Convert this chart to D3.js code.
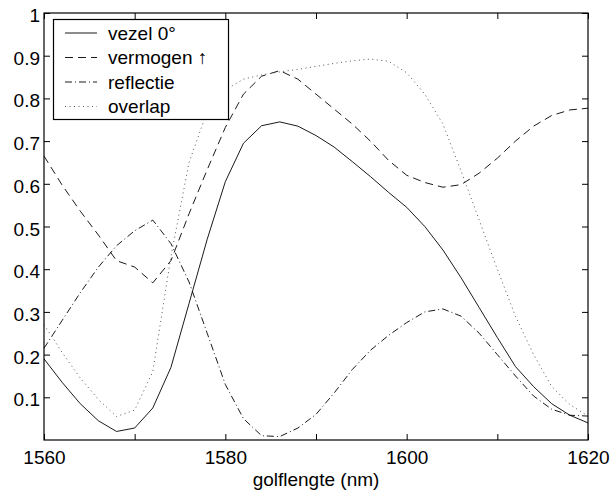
<!DOCTYPE html>
<html><head><meta charset="utf-8">
<script src="https://cdn.jsdelivr.net/npm/d3@7"></script>
<style>
body{margin:0;background:#fff}
svg{display:block}
text{font-family:"Liberation Sans",Arial,Helvetica,sans-serif;fill:#000}
</style>
</head><body>
<svg id="chart" width="611" height="492"></svg>
<script>
// ---- data ----
const wavelength = [1560,1562,1564,1566,1568,1570,1572,1574,1576,1578,1580,1582,1584,1586,1588,1590,
                    1592,1594,1596,1598,1600,1602,1604,1606,1608,1610,1612,1614,1616,1618,1620];
const vezel     = [0.19,0.135,0.085,0.045,0.02,0.028,0.075,0.17,0.32,0.47,0.605,0.695,0.736,0.745,0.735,0.713,
                   0.686,0.652,0.617,0.58,0.545,0.50,0.445,0.38,0.31,0.24,0.172,0.125,0.085,0.058,0.04];
const vermogen  = [0.665,0.597,0.536,0.48,0.42,0.405,0.368,0.42,0.53,0.633,0.732,0.81,0.852,0.865,0.845,0.81,
                   0.775,0.74,0.70,0.655,0.62,0.603,0.592,0.598,0.625,0.66,0.70,0.735,0.76,0.773,0.777];
const reflectie = [0.215,0.28,0.345,0.405,0.455,0.49,0.515,0.46,0.37,0.25,0.13,0.05,0.01,0.008,0.028,0.06,
                   0.11,0.165,0.21,0.245,0.275,0.3,0.307,0.29,0.25,0.2,0.15,0.103,0.072,0.058,0.056];
const overlap   = [0.27,0.205,0.145,0.095,0.055,0.07,0.16,0.43,0.65,0.77,0.82,0.845,0.855,0.862,0.868,0.875,
                   0.882,0.888,0.892,0.887,0.86,0.81,0.74,0.63,0.515,0.40,0.29,0.20,0.125,0.083,0.056];
const seriesNames = ["vezel 0°","vermogen ↑","reflectie","overlap"];
const xTicks = [1560,1570,1580,1590,1600,1610,1620];
const xTickLabels = ["1560","","1580","","1600","","1620"];
const yTicks = [0.1,0.2,0.3,0.4,0.5,0.6,0.7,0.8,0.9,1];
const yTickLabels = ["0.1","0.2","0.3","0.4","0.5","0.6","0.7","0.8","0.9","1"];
const xLabel = "golflengte (nm)";

// ---- layout ----
const L = 44, R = 588, T = 13, B = 440;
const FS = 19;
const svg = d3.select("#chart");
const x = d3.scaleLinear().domain([1560,1620]).range([L,R]);
const y = d3.scaleLinear().domain([0,1]).range([B,T]);

const dashes = ["", "8,5", "7,3,1,3", "1,3.5"];
const colors = ["#000","#000","#000","#555"];
const widths = [0.9,0.9,0.9,1];
const seriesData = [vezel, vermogen, reflectie, overlap];

// curves
const line = d3.line().x((d,i)=>x(wavelength[i])).y(d=>y(d));
seriesData.forEach((s,k)=>{
  svg.append("path").datum(s)
    .attr("d", line)
    .attr("fill","none")
    .attr("stroke",colors[k])
    .attr("stroke-width", widths[k])
    .attr("stroke-dasharray", dashes[k] || null);
});

// axes
const fmtX = (d,i)=>xTickLabels[i];
const fmtY = (d,i)=>yTickLabels[i];
const gx = svg.append("g").attr("transform",`translate(0,${B})`)
  .call(d3.axisBottom(x).tickValues(xTicks).tickFormat(fmtX).tickSizeInner(-6).tickSizeOuter(0).tickPadding(11));
const gxt = svg.append("g").attr("transform",`translate(0,${T})`)
  .call(d3.axisTop(x).tickValues(xTicks).tickFormat("").tickSizeInner(-6).tickSizeOuter(0));
const gy = svg.append("g").attr("transform",`translate(${L},0)`)
  .call(d3.axisLeft(y).tickValues(yTicks).tickFormat(fmtY).tickSizeInner(-6).tickSizeOuter(0).tickPadding(4));
const gyr = svg.append("g").attr("transform",`translate(${R},0)`)
  .call(d3.axisRight(y).tickValues(yTicks).tickFormat("").tickSizeInner(-6).tickSizeOuter(0));
[gx,gxt,gy,gyr].forEach(g=>{
  g.select(".domain").remove();
  g.selectAll(".tick line").attr("stroke","#000").attr("stroke-width",1);
  g.selectAll("text").attr("font-size",FS).attr("font-family","Liberation Sans, Arial, sans-serif").attr("fill","#000");
});
gy.selectAll("text").attr("dy","0.45em");

// frame
svg.append("rect").attr("x",L).attr("y",T).attr("width",R-L).attr("height",B-T)
  .attr("fill","none").attr("stroke","#000").attr("stroke-width",1.2);

// x label
svg.append("text").attr("x",(L+R)/2).attr("y",486).attr("text-anchor","middle")
  .attr("font-size",FS).text(xLabel);

// legend
const lg = svg.append("g");
lg.append("rect").attr("x",53.5).attr("y",19.5).attr("width",175).attr("height",100)
  .attr("fill","#fff").attr("stroke","#000").attr("stroke-width",1.2);
const rowY = [33, 57.5, 82, 106.5];
seriesNames.forEach((n,k)=>{
  lg.append("line").attr("x1",65).attr("x2",97).attr("y1",rowY[k]).attr("y2",rowY[k])
    .attr("stroke",colors[k]).attr("stroke-width", widths[k])
    .attr("stroke-dasharray", dashes[k] || null);
  lg.append("text").attr("x",108).attr("y",rowY[k]).attr("dy","0.36em")
    .attr("font-size",FS).text(n);
});
</script>
</body></html>
